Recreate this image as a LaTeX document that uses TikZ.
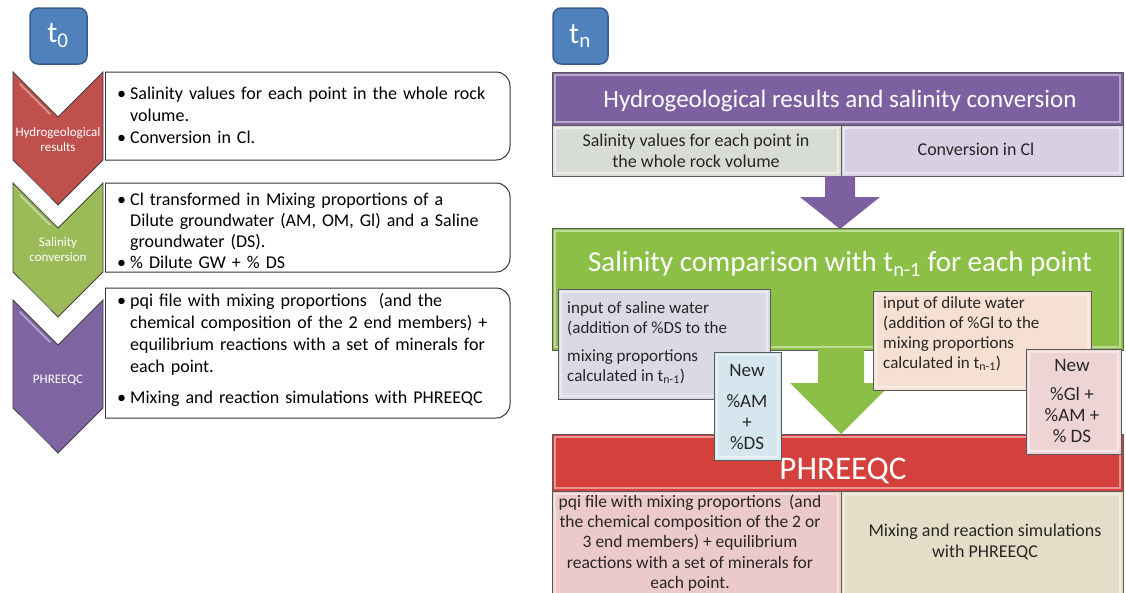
\documentclass[tikz,border=0pt]{standalone}
\usepackage{fontspec}
\setmainfont{Carlito}
\usetikzlibrary{calc}

\definecolor{tblue}{HTML}{4F81BD}
\definecolor{tblueedge}{HTML}{385D8A}
\definecolor{chred}{HTML}{C0504D}
\definecolor{chgreen}{HTML}{9BBB59}
\definecolor{chpurple}{HTML}{8064A2}
\definecolor{hdpurple}{HTML}{7D60A0}
\definecolor{hdgreen}{HTML}{8CBF45}
\definecolor{hdred}{HTML}{D4403B}
\definecolor{cellsage}{HTML}{D7DDD4}
\definecolor{celllav}{HTML}{D7D0E4}
\definecolor{boxgray}{HTML}{DBD9E5}
\definecolor{boxblue}{HTML}{D5E6EE}
\definecolor{boxpeach}{HTML}{F6E0D1}
\definecolor{boxpink}{HTML}{EFD4D6}
\definecolor{cellrose}{HTML}{EDCACA}
\definecolor{cellsand}{HTML}{E5DDC7}
\definecolor{edgegray}{HTML}{595959}

% bullet paragraph with hanging indent
\newcommand\bpt[1]{\noindent\hangindent=13pt\hangafter=1\makebox[13pt][l]{\textbullet}#1\par}

% filled rectangle with a soft inner highlight and a thin outline
\newcommand\bevelrect[5]{%
  \fill[#5] (#1,#2) rectangle (#3,#4);
  \draw[white, opacity=0.45, line width=2pt] ($(#1,#2)+(3,3)$) rectangle ($(#3,#4)+(-3,-3)$);
  \draw[edgegray, line width=0.8pt] (#1,#2) rectangle (#3,#4);
}

% downward chevron: top edge y=#1, side bottoms y=#2, colour #3
\newcommand\chevron[3]{%
  \filldraw[chev, fill=#3] (13,#1) -- (58,#1+45) -- (103,#1) -- (103,#2) -- (58,#2+45) -- (13,#2) -- cycle;
  \draw[white, opacity=0.45, line width=1.6pt, line cap=round] (20,#1+12) -- (50,#1+42);
  \draw[white, opacity=0.45, line width=1.6pt, line cap=round] (20,#2+8) -- (50,#2+38);
}

% text panel with rounded corners on the right only
\newcommand\listpanel[2]{%
  \filldraw[listbox, rounded corners=14pt] (105,#1) -- (510,#1) -- (510,#2) -- (105,#2);
  \draw[black!80, line width=1pt] (105,#1) -- (105,#2);
}

\begin{document}
\begin{tikzpicture}[x=1pt,y=-1pt,
  tbox/.style={rounded corners=8pt, fill=tblue, draw=tblueedge, line width=1.5pt},
  tlabel/.style={text=white, font=\fontsize{30}{32}\selectfont, inner sep=0pt},
  chev/.style={draw=black!75, line width=0.8pt},
  chevlabel/.style={text=white, font=\fontsize{13}{15}\selectfont, align=center, inner sep=0pt},
  listbox/.style={fill=white, draw=black!80, line width=1pt},
  bullettext/.style={anchor=base west, text width=400pt, inner sep=0pt, align=left,
                     font=\fontsize{18}{22}\selectfont},
  hdtext/.style={text=white, inner sep=0pt},
  celltext/.style={align=center, inner sep=0pt, font=\fontsize{18}{21}\selectfont, text=black!85},
  boxtext/.style={inner sep=0pt, font=\fontsize{17}{20}\selectfont, text=black!85},
]
\useasboundingbox (0,0) rectangle (1126,592);
\fill[white] (0,0) rectangle (1126,592);

% ---------------- t0 column ----------------
\filldraw[tbox] (30,8) rectangle (87,64);
\node[tlabel] (t0) at (58,36) {t\textsubscript{0}};

\chevron{300}{408}{chpurple}
\chevron{183}{272}{chgreen}
\chevron{72}{160}{chred}

\node[chevlabel] (c1) at (58,140) {Hydrogeological\\results};
\node[chevlabel] (c2) at (58,250) {Salinity\\conversion};
\node[chevlabel] (c3) at (58,380) {PHREEQC};

\listpanel{72}{160}
\listpanel{183}{272}
\listpanel{288}{418}

\node[bullettext] (l1) at (117,99) {%
  \bpt{Salinity values for each point in the whole rock\newline volume.}%
  \bpt{Conversion in Cl.}};
\node[bullettext, font=\fontsize{18}{21}\selectfont] (l2) at (117,205) {%
  \bpt{Cl transformed in Mixing proportions of a\newline Dilute groundwater (AM, OM, Gl) and a Saline\newline groundwater (DS).}%
  \bpt{\% Dilute GW + \% DS}};
\node[bullettext] (l3) at (117,306) {%
  \bpt{pqi file with mixing proportions~ (and the\newline chemical composition of the 2 end members) +\newline equilibrium reactions with a set of minerals for\newline each point.}%
  \vspace{9pt}%
  \bpt{Mixing and reaction simulations with PHREEQC}};

% ---------------- tn column ----------------
\filldraw[tbox] (553,8) rectangle (608,64);
\node[tlabel] (tn) at (580,36) {t\textsubscript{n}};

% hydrogeology header with its two cells
\bevelrect{552}{72}{1123}{125}{hdpurple}
\node[hdtext, font=\fontsize{25}{29}\selectfont] (hdr) at (840,101) {Hydrogeological results and salinity conversion};
\bevelrect{552}{125}{841}{176}{cellsage}
\bevelrect{841}{125}{1123}{176}{celllav}
\node[celltext] (sv) at (696,151) {Salinity values for each point in\\the whole rock volume};
\node[celltext] (cv) at (976,149) {Conversion in Cl};

% block arrow down to the comparison step
\fill[hdpurple] (825,176) -- (855,176) -- (855,197) -- (880,197) -- (840,229) -- (800,197) -- (825,197) -- cycle;

% salinity comparison header
\bevelrect{552}{228}{1123}{350}{hdgreen}
\node[hdtext, font=\fontsize{29}{33}\selectfont] (cmp) at (840,264) {Salinity comparison with t\textsubscript{n-1} for each point};

% block arrow down to PHREEQC
\fill[hdgreen] (818,348) -- (864,348) -- (864,383) -- (892,383) -- (841,434) -- (790,383) -- (818,383) -- cycle;

% PHREEQC header with its two cells
\bevelrect{552}{434}{1123}{491}{hdred}
\node[hdtext, font=\fontsize{33}{36}\selectfont] (phr) at (843,471) {PHREEQC};
\bevelrect{552}{491}{841}{600}{cellrose}
\bevelrect{841}{491}{1123}{600}{cellsand}
\node[celltext, font=\fontsize{17.5}{20.3}\selectfont] (pq) at (690,543) {pqi file with mixing proportions~ (and\\the chemical composition of the 2 or\\3 end members) + equilibrium\\reactions with a set of minerals for\\each point.};
\node[celltext] (ms) at (985,542) {Mixing and reaction simulations\\with PHREEQC};

% overlay boxes of the comparison step
\bevelrect{558}{289}{770}{399}{boxgray}
\node[boxtext, anchor=north west, align=left] (sw) at (567,301) {input of saline water\\(addition of \%DS to the\\[8pt]mixing proportions\\calculated in t\textsubscript{n-1})};
\bevelrect{714}{352}{781}{460}{boxblue}
\node[boxtext, font=\fontsize{19}{21}\selectfont, align=center] (na) at (747,407) {New\\[10pt]\%AM\\+\\\%DS};

\bevelrect{873}{291}{1091}{390}{boxpeach}
\node[boxtext, anchor=north west, align=left] (dw) at (883,296) {input of dilute water\\(addition of \%Gl to the\\mixing proportions\\calculated in t\textsubscript{n-1})};
\bevelrect{1026}{349}{1121}{454}{boxpink}
\node[boxtext, font=\fontsize{19}{21}\selectfont, align=center] (ng) at (1072,401) {New\\[8pt]\%Gl +\\\%AM +\\\% DS};
\end{tikzpicture}
\end{document}
